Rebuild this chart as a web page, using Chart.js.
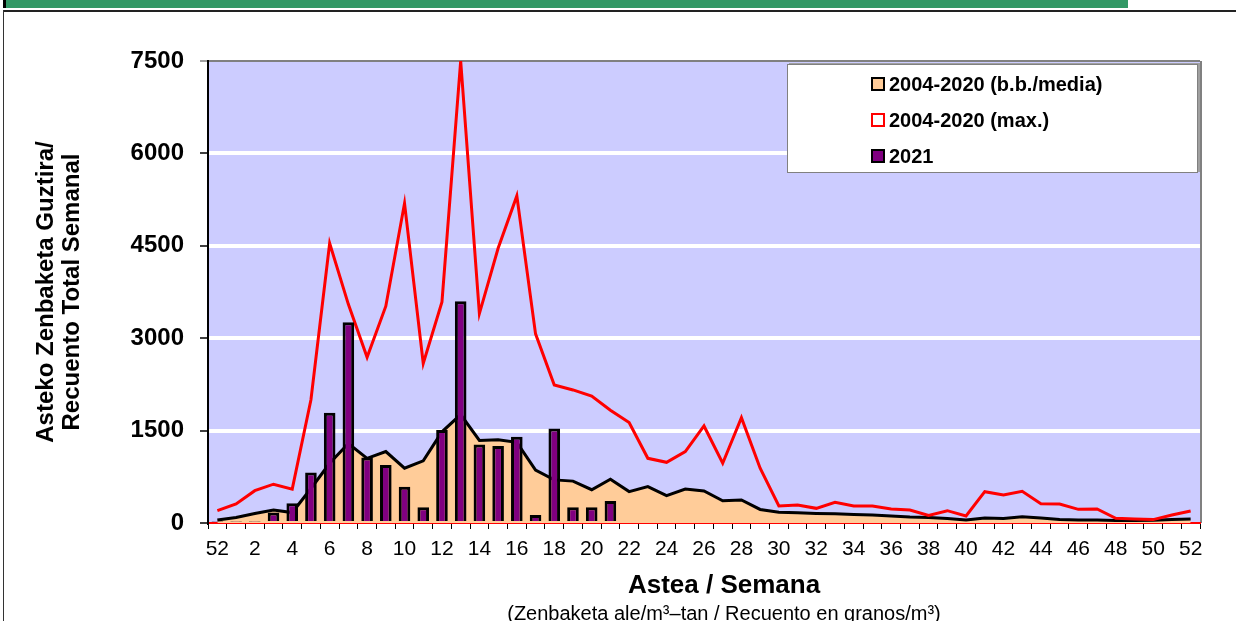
<!DOCTYPE html>
<html>
<head>
<meta charset="utf-8">
<script src="https://cdn.jsdelivr.net/npm/chart.js@4.4.0/dist/chart.umd.min.js"></script>
<style>
  body { margin: 0; background: #fff; font-family: "Liberation Sans", Arial, sans-serif; }
  #page { position: relative; width: 1236px; height: 621px; overflow: hidden; background: #fff; }
  #chart { position: absolute; left: 0; top: 0; }
  .deco { position: absolute; }
  #legend {
    position: absolute; left: 787px; top: 64px; width: 409px; height: 107px;
    background: #fff; border: 1px solid #808080; box-shadow: 2px -1px 0 #a0a0a0;
  }
  .item { position: absolute; left: 83px; height: 24px; display: flex; align-items: center;
    font-weight: bold; font-size: 20px; color: #000; white-space: nowrap; }
  .swatch { width: 10px; height: 10px; border: 2px solid #000; margin-right: 4px; }
  .xtitle { position: absolute; left: 424px; width: 600px; text-align: center; color: #000; white-space: nowrap; }
</style>
</head>
<body>
<div id="page">
  <div class="deco" style="left:3px;top:0;width:3px;height:8px;background:#000"></div>
  <div class="deco" style="left:6px;top:0;width:1122px;height:8px;background:#339966"></div>
  <div class="deco" style="left:3px;top:10px;width:1233px;height:2px;background:#222"></div>
  <div class="deco" style="left:3px;top:10px;width:1px;height:611px;background:#333"></div>
  <canvas id="chart" width="1236" height="621"></canvas>
  <div id="legend"></div>
  <div class="xtitle" style="top:569px;font-size:26px;font-weight:bold">Astea / Semana</div>
  <div class="xtitle" style="top:602px;font-size:20px">(Zenbaketa ale/m³–tan / Recuento en granos/m³)</div>
</div>
<script>
const family = '"Liberation Sans", Arial, sans-serif';

// weeks: 52 of previous year, then 1..52
const weeks = ['52', '1', '2', '3', '4', '5', '6', '7', '8', '9', '10', '11', '12', '13',
  '14', '15', '16', '17', '18', '19', '20', '21', '22', '23', '24', '25', '26', '27',
  '28', '29', '30', '31', '32', '33', '34', '35', '36', '37', '38', '39', '40', '41',
  '42', '43', '44', '45', '46', '47', '48', '49', '50', '51', '52'];

const media = [50, 90, 155, 210, 170, 560, 970, 1290, 1050, 1160, 890, 1010, 1480, 1760,
  1340, 1350, 1310, 860, 700, 680, 540, 710, 510, 590, 445, 550, 520, 360,
  375, 220, 175, 165, 155, 150, 140, 130, 115, 97, 88, 73, 50, 80,
  75, 100, 80, 55, 50, 50, 40, 40, 45, 55, 65];

const maxima = [200, 310, 525, 630, 550, 2000, 4540, 3550, 2690, 3520, 5190, 2590, 3590, 7500,
  3400, 4460, 5310, 3070, 2240, 2160, 2060, 1830, 1630, 1050, 985, 1160, 1575, 970,
  1710, 890, 276, 292, 238, 335, 276, 276, 227, 211, 124, 200, 114, 508,
  454, 514, 314, 309, 222, 227, 76, 65, 55, 130, 195];

const y2021 = [25, 25, 25, 170, 320, 820, 1790, 3260, 1065, 940, 590, 255, 1510, 3600,
  1275, 1250, 1400, 130, 1535, 255, 255, 357, null, null, null, null, null, null,
  null, null, null, null, null, null, null, null, null, null, null, null, null, null,
  null, null, null, null, null, null, null, null, null, null, null];

const yTicks = [0, 1500, 3000, 4500, 6000, 7500];

// blue plot background + grey right edge
const plotBg = {
  id: 'plotBg',
  beforeDraw(chart) {
    const { ctx, chartArea: a } = chart;
    ctx.save();
    ctx.fillStyle = '#ccccff';
    ctx.fillRect(a.left, a.top, a.right - a.left, a.bottom - a.top);
    ctx.strokeStyle = '#808080';
    ctx.lineWidth = 2;
    ctx.beginPath();
    ctx.moveTo(a.right + 1, a.top);
    ctx.lineTo(a.right + 1, a.bottom);
    ctx.stroke();
    ctx.restore();
  }
};

const chart = new Chart(document.getElementById('chart').getContext('2d'), {
  type: 'bar',
  data: {
    labels: weeks,
    datasets: [
      {
        type: 'line',
        label: '2004-2020 (b.b./media)',
        data: media,
        backgroundColor: '#ffcc99',
        borderColor: '#000000',
        borderWidth: 3,
        fill: 'origin',
        pointRadius: 0,
        tension: 0,
        order: 3,
      },
      {
        type: 'line',
        label: '2004-2020 (max.)',
        data: maxima,
        backgroundColor: '#ffffff',
        borderColor: '#ff0000',
        borderWidth: 3,
        fill: false,
        pointRadius: 0,
        tension: 0,
        order: 2,
      },
      {
        type: 'bar',
        label: '2021',
        data: y2021,
        backgroundColor: '#800080',
        borderColor: '#000000',
        borderWidth: 3,
        barPercentage: 0.62,
        categoryPercentage: 1,
        order: 1,
      },
    ],
  },
  options: {
    responsive: false,
    animation: false,
    layout: { padding: { left: 0, top: 61, right: 36, bottom: 0 } },
    plugins: { legend: { display: false }, tooltip: { enabled: false } },
    scales: {
      x: {
        offset: true,
        afterFit: (s) => { s.height = 98; },
        grid: { offset: true, drawOnChartArea: false, color: '#000', tickLength: 6, lineWidth: 1 },
        border: { color: '#ff0000', width: 2 },
        ticks: {
          autoSkip: false,
          maxRotation: 0,
          padding: 8,
          color: '#000',
          font: { size: 21, family },
          callback(v, i) { return i % 2 === 0 ? this.getLabelForValue(v) : ''; },
        },
      },
      y: {
        min: 0,
        max: 7500,
        afterFit: (s) => { s.width = 208; },
        afterBuildTicks: (s) => { s.ticks = yTicks.map((value) => ({ value })); },
        ticks: {
          padding: 16,
          color: '#000',
          font: { size: 24, weight: 'bold', family },
          callback: (v) => String(v),
        },
        grid: {
          color: (c) => c.tick.value === 7500 ? '#808080' : (c.tick.value === 0 ? 'rgba(0,0,0,0)' : '#ffffff'),
          lineWidth: (c) => c.tick.value === 7500 ? 2 : 4,
          tickColor: (c) => c.tick.value === 7500 ? '#808080' : '#000',
          tickWidth: 1.5,
          tickLength: 8,
        },
        border: { color: '#000', width: 2 },
        title: {
          display: true,
          text: ['Asteko Zenbaketa Guztira/', 'Recuento Total Semanal'],
          color: '#000',
          font: { size: 24, weight: 'bold', lineHeight: 1.1, family },
          padding: { top: 33, bottom: 0 },
        },
      },
    },
  },
  plugins: [plotBg],
});

// legend box built from the datasets
const legend = document.getElementById('legend');
chart.data.datasets.forEach((ds, i) => {
  const item = document.createElement('div');
  item.className = 'item';
  item.style.top = (7 + i * 36) + 'px';
  const sw = document.createElement('span');
  sw.className = 'swatch';
  sw.style.background = ds.backgroundColor;
  sw.style.borderColor = ds.borderColor;
  item.appendChild(sw);
  item.appendChild(document.createTextNode(ds.label));
  legend.appendChild(item);
});
</script>
</body>
</html>
